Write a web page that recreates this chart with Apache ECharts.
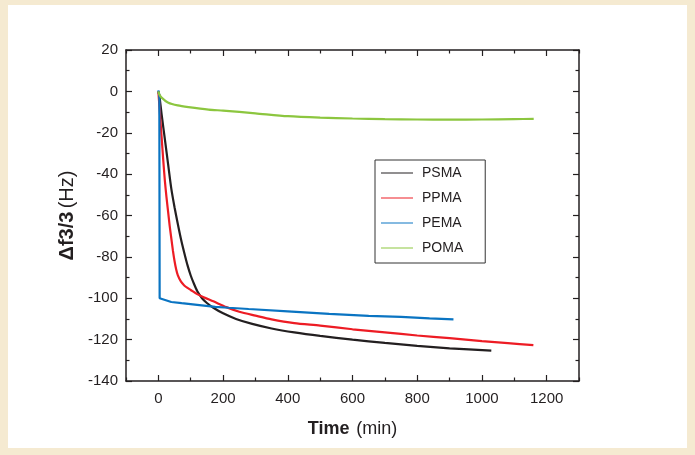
<!DOCTYPE html>
<html>
<head>
<meta charset="utf-8">
<script src="https://cdn.jsdelivr.net/npm/echarts@6/dist/echarts.min.js"></script>
<style>
  html, body { margin: 0; padding: 0; background: #f5ead1; }
  #wrap { position: relative; width: 695px; height: 455px; background: #f5ead1; overflow: hidden; }
  #panel { position: absolute; left: 8px; top: 5px; width: 679px; height: 443px; background: #ffffff; }
  #chart { position: absolute; left: 0; top: 0; width: 695px; height: 455px; }
</style>
</head>
<body>
<div id="wrap"><div id="panel"></div><div id="chart"></div></div>
<script>
// ---- data (time in min, Δf3/3 in Hz) ----
const seriesNames = ['PSMA', 'PPMA', 'PEMA', 'POMA'];

const psmaTime = [0, 3, 10, 20, 30, 40, 50, 60, 70, 80, 90, 100, 110, 120, 135, 150, 170, 200, 240, 290, 350, 420, 500, 600, 700, 800, 900, 1029];
const psmaFreq = [0, -2, -11, -23, -35, -47, -56, -64, -71.5, -78, -84, -89, -93, -96.5, -100, -102.3, -104.6, -107.3, -110, -112.4, -114.6, -116.5, -118.2, -120, -121.6, -123, -124.2, -125.3];

const ppmaTime = [0, 5, 10, 15, 20, 25, 30, 35, 40, 45, 50, 55, 60, 70, 80, 90, 100, 120, 140, 170, 210, 250, 300, 350, 420, 500, 600, 700, 800, 900, 1000, 1080, 1159];
const ppmaFreq = [0, -11, -22, -33, -43, -51, -58, -65, -71, -77, -82, -86, -88.8, -92, -93.8, -95, -96, -98, -99.5, -101.5, -104.3, -106.5, -108.4, -110.2, -112, -113.2, -115, -116.5, -118, -119.3, -120.7, -121.7, -122.7];

const pemaTime = [0, 3, 4, 10, 40, 72, 120, 176, 217, 279, 400, 528, 650, 750, 838, 912];
const pemaFreq = [0.5, -2, -100, -100.8, -101.8, -102.4, -103.2, -104.2, -104.6, -105.2, -106.3, -107.6, -108.5, -109, -109.7, -110.2];

const pomaTime = [0, 3, 10, 31, 60, 93, 155, 200, 300, 400, 500, 600, 700, 800, 900, 1000, 1100, 1160];
const pomaFreq = [0, -1.5, -3, -5.5, -6.8, -7.6, -8.8, -9.3, -10.6, -12, -12.7, -13.1, -13.4, -13.6, -13.7, -13.6, -13.4, -13.3];

const xMajorTicks = [0, 200, 400, 600, 800, 1000, 1200];
const xMinorTicks = [-100, 100, 300, 500, 700, 900, 1100, 1300];
const yTicks = [-140, -120, -100, -80, -60, -40, -20, 0, 20];

const colors = ['#231f20', '#ed1c24', '#0a74c2', '#8cc63f'];
const smoothing = [0.25, 0.25, false, 0.25];

function pairs(t, v) { return t.map((x, i) => [x, v[i]]); }
const seriesData = [pairs(psmaTime, psmaFreq), pairs(ppmaTime, ppmaFreq), pairs(pemaTime, pemaFreq), pairs(pomaTime, pomaFreq)];

const axisColor = '#231f20';
const font = '"Liberation Sans", Arial, Helvetica, sans-serif';
const xMin = -100, xMax = 1300, yMin = yTicks[0], yMax = yTicks[yTicks.length - 1];

function xAx(position, ticks, len, showLine, showLabel, extra) {
  return Object.assign({
    type: 'value', position: position, min: xMin, max: xMax,
    axisLine: { show: showLine, onZero: false, lineStyle: { color: axisColor, width: 1.5 } },
    axisTick: { show: true, inside: true, length: len, customValues: ticks, lineStyle: { color: axisColor, width: 1.2 } },
    axisLabel: { show: showLabel, customValues: xMajorTicks, formatter: v => String(v), margin: 10, fontSize: 15, color: '#231f20', fontFamily: font },
    splitLine: { show: false }
  }, extra || {});
}
function yAx(position, showLabel, extra) {
  return Object.assign({
    type: 'value', position: position, min: yMin, max: yMax, interval: 20,
    axisLine: { show: true, onZero: false, lineStyle: { color: axisColor, width: 1.5 } },
    axisTick: { show: true, inside: true, length: 6, lineStyle: { color: axisColor, width: 1.2 } },
    minorTick: { show: true, splitNumber: 2, length: 3.5, lineStyle: { color: axisColor, width: 1.2 } },
    axisLabel: { show: showLabel, margin: 8, fontSize: 15, color: '#231f20', fontFamily: font },
    splitLine: { show: false }, minorSplitLine: { show: false }
  }, extra || {});
}

const chart = echarts.init(document.getElementById('chart'), null, { renderer: 'canvas' });
chart.setOption({
  animation: false,
  backgroundColor: 'transparent',
  textStyle: { fontFamily: font },
  grid: { left: 126, top: 50, right: 116, bottom: 74, containLabel: false },
  legend: {
    orient: 'vertical', left: 375, top: 160,
    data: seriesNames,
    itemWidth: 32, itemHeight: 14, itemGap: 11,
    padding: [6, 22, 8, 6],
    borderColor: '#333', borderWidth: 1,
    icon: 'path://M0,0 L32,0 L32,1 L0,1 Z',
    textStyle: { fontSize: 14, color: '#231f20', fontFamily: font, padding: [0, 0, 0, 4] }
  },
  xAxis: [
    xAx('bottom', xMajorTicks, 6, true, true, {
      name: '{b|Time}  {n|(min)}', nameLocation: 'middle', nameGap: 39,
      nameTextStyle: { rich: {
        b: { fontSize: 18, fontWeight: 'bold', color: '#231f20', fontFamily: font },
        n: { fontSize: 18, color: '#231f20', fontFamily: font } } }
    }),
    xAx('bottom', xMinorTicks, 3.5, false, false),
    xAx('top', xMajorTicks, 6, true, false),
    xAx('top', xMinorTicks, 3.5, false, false)
  ],
  yAxis: [
    yAx('left', true, {
      name: '{b|Δf3/3} {n|(Hz)}', nameLocation: 'middle', nameGap: 45,
      nameTextStyle: { rich: {
        b: { fontSize: 20, fontWeight: 'bold', color: '#231f20', fontFamily: font },
        n: { fontSize: 20, color: '#231f20', fontFamily: font } } }
    }),
    yAx('right', false)
  ],
  series: seriesNames.map((name, i) => ({
    name: name, type: 'line', xAxisIndex: 0, yAxisIndex: 0,
    data: seriesData[i], symbol: 'none',
    smooth: smoothing[i],
    lineStyle: { color: colors[i], width: 2.2 },
    itemStyle: { color: colors[i] },
    z: 2 + i
  }))
});
</script>
</body>
</html>
